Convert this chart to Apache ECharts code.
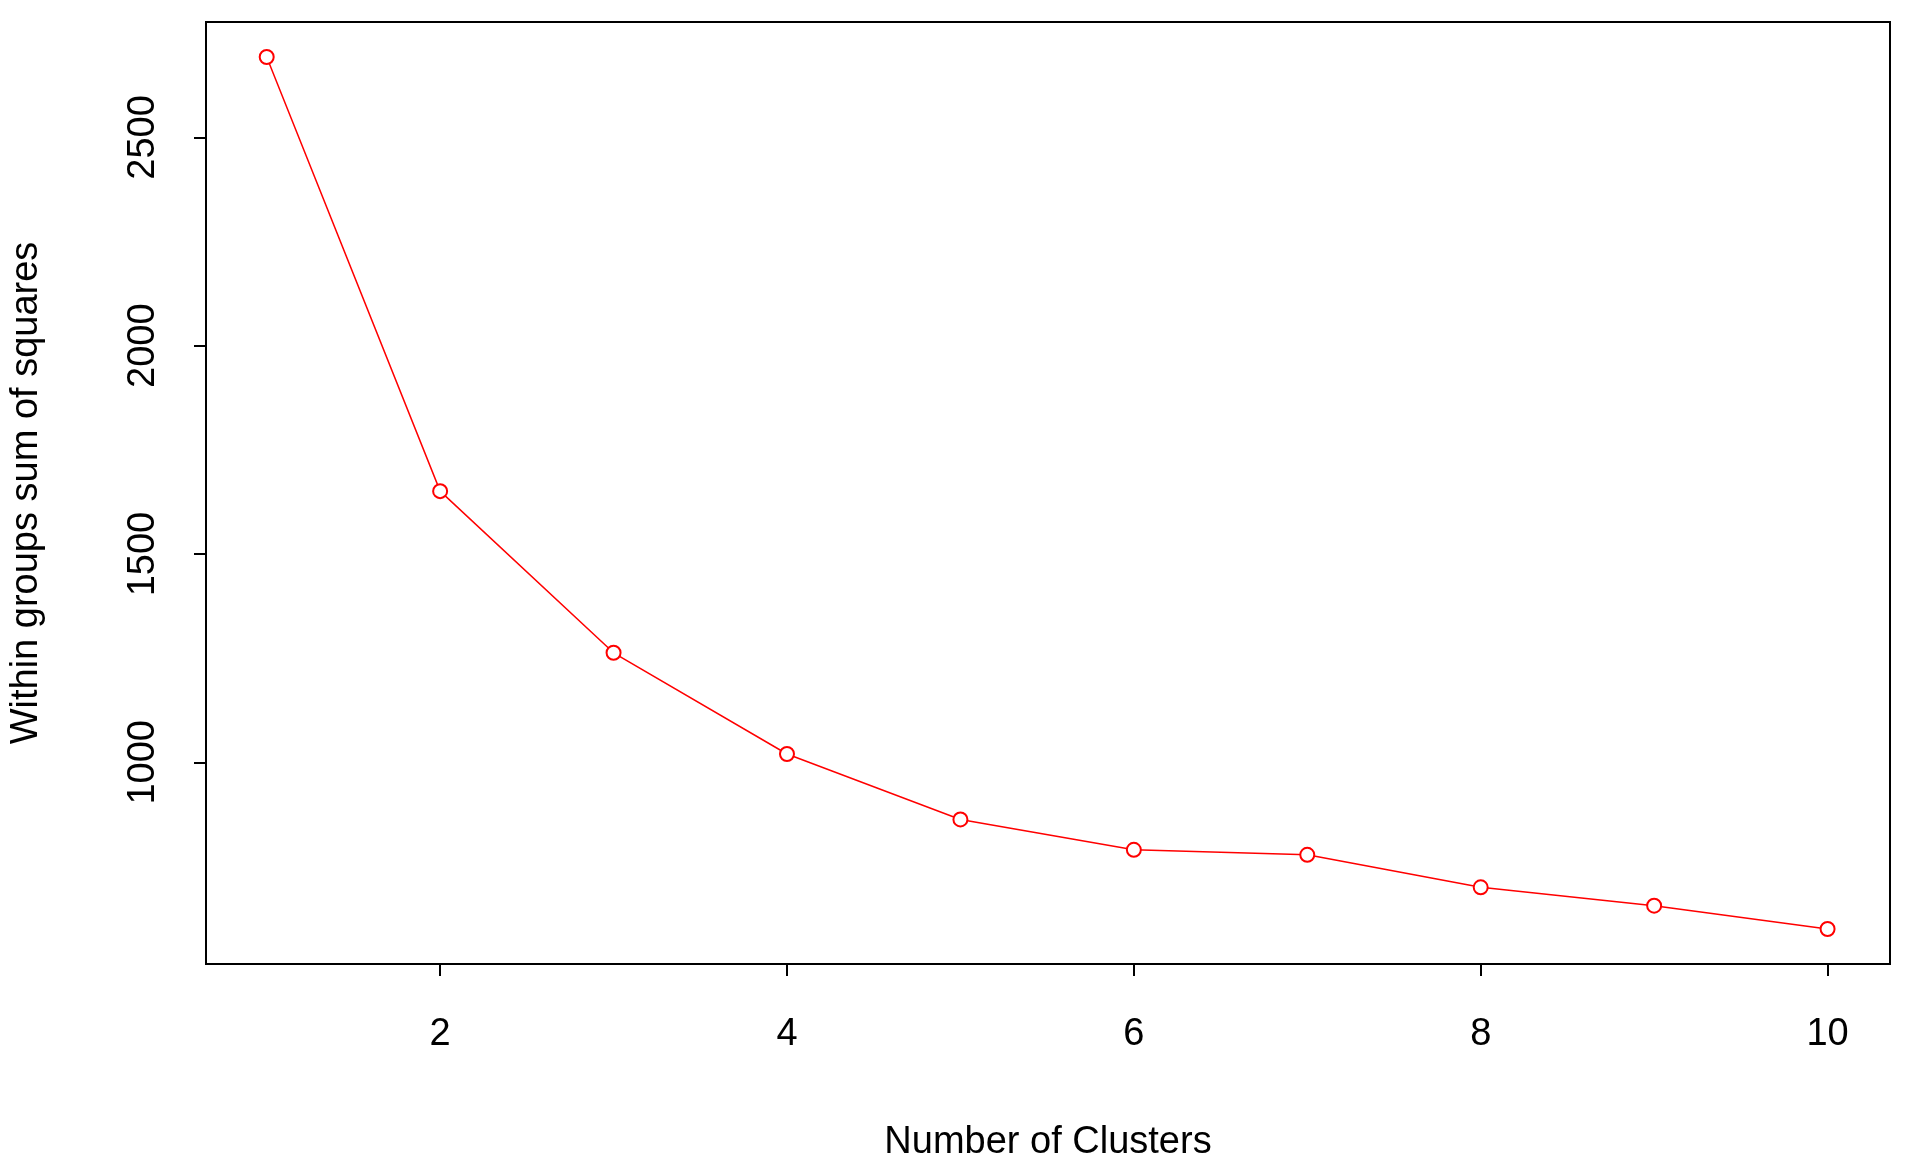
<!DOCTYPE html>
<html>
<head>
<meta charset="utf-8">
<script src="https://cdn.jsdelivr.net/npm/echarts@6/dist/echarts.min.js"></script>
<style>html,body{margin:0;padding:0;background:#fff}#main{width:1906px;height:1168px}</style>
</head>
<body>
<div id="main"></div>
<script>
var clusters = [1, 2, 3, 4, 5, 6, 7, 8, 9, 10];
var wss = [2693, 1651, 1263, 1020, 863, 790, 778, 700, 656, 600];
var xTicks = [2, 4, 6, 8, 10];
var yTicks = [1000, 1500, 2000, 2500];

var data = [];
for (var i = 0; i < clusters.length; i++) {
    data.push([clusters[i], wss[i]]);
}

var chart = echarts.init(document.getElementById('main'));
chart.setOption({
    animation: false,
    textStyle: { fontFamily: 'Liberation Sans' },
    grid: {
        left: 200, right: 16, top: 22, bottom: 204,
        show: true, borderColor: '#000', borderWidth: 2, backgroundColor: 'transparent'
    },
    xAxis: {
        type: 'value',
        min: 0.65, max: 10.36,
        name: 'Number of Clusters',
        nameLocation: 'middle',
        nameGap: 160,
        nameTextStyle: { fontSize: 38, color: '#000' },
        splitLine: { show: false },
        axisLine: { show: false },
        axisTick: { show: true, customValues: xTicks, length: 12, lineStyle: { color: '#000', width: 2 } },
        axisLabel: { customValues: xTicks, fontSize: 38, color: '#000', margin: 52, formatter: function (v) { return String(v); } }
    },
    yAxis: {
        type: 'value',
        min: 516, max: 2777,
        name: 'Within groups sum of squares',
        nameLocation: 'middle',
        nameGap: 160,
        nameTextStyle: { fontSize: 38, color: '#000' },
        splitLine: { show: false },
        axisLine: { show: false },
        axisTick: { show: true, customValues: yTicks, length: 12, lineStyle: { color: '#000', width: 2 } },
        axisLabel: { customValues: yTicks, fontSize: 38, color: '#000', rotate: 90, margin: 62, verticalAlign: 'middle', formatter: function (v) { return String(v); } }
    },
    series: [{
        type: 'line',
        data: data,
        symbol: 'emptyCircle',
        symbolSize: 14,
        showSymbol: true,
        color: '#ff0000',
        lineStyle: { color: '#ff0000', width: 1.5 },
        itemStyle: { color: '#ff0000', borderColor: '#ff0000', borderWidth: 2 }
    }]
});
</script>
</body>
</html>
